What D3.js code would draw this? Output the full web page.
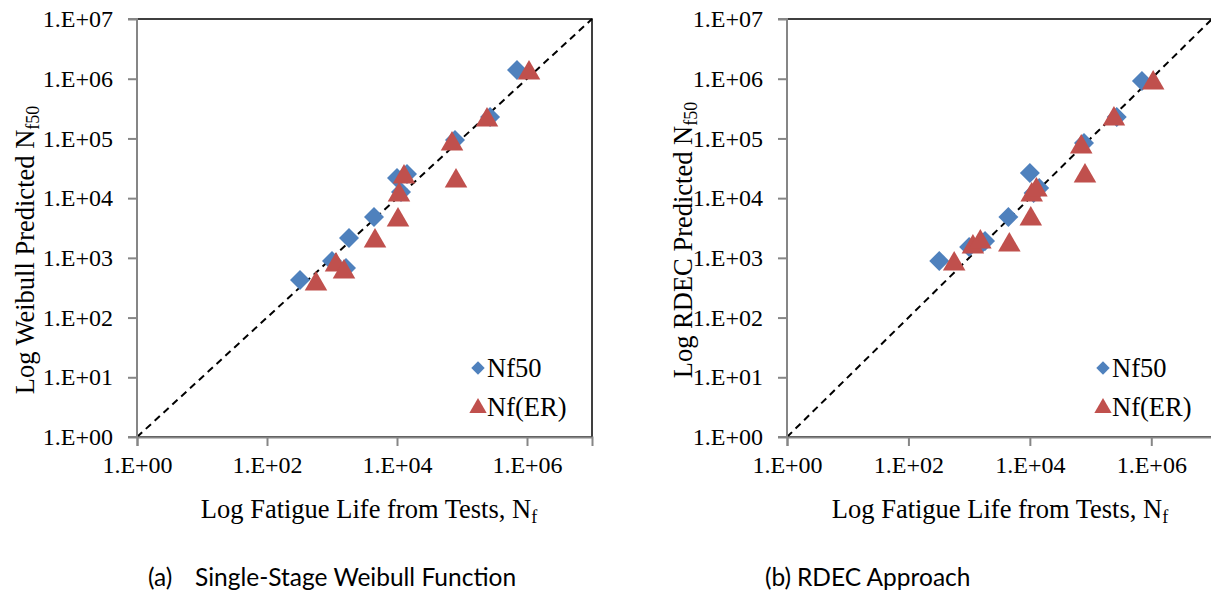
<!DOCTYPE html>
<html><head><meta charset="utf-8">
<script src="https://cdn.jsdelivr.net/npm/d3@7"></script>
<style>body{margin:0;background:#fff}svg{display:block}</style>
</head><body>
<svg id="c" width="1211" height="596"></svg>
<script>
// ---- data ----
const testNf50 = [322, 1000, 1642, 1827, 4426, 10000, 11530, 14250, 78000, 270000, 701000];
const weibullNf50 = [426, 887, 677, 2155, 4834, 21770, 12680, 25400, 94200, 228600, 1400000];
const rdecNf50 = [887, 1521, 1775, 1918, 4834, 26400, 12200, 14800, 83900, 228600, 916000];
const testNfER = [567, 1153, 1530, 4590, 10360, 10730, 12820, 80900, 70200, 242500, 1074000];
const weibullNfER = [394, 820, 626, 2070, 4650, 12200, 24400, 20900, 87300, 220000, 1349000];
const rdecNfER = [853, 1643, 1992, 1775, 4834, 12200, 14800, 25400, 77600, 228600, 916000];
const yTicks = [1, 10, 100, 1e3, 1e4, 1e5, 1e6, 1e7];
const xTicks = [1, 100, 1e4, 1e6];
const tickLabels = {1:"1.E+00",10:"1.E+01",100:"1.E+02",1000:"1.E+03",10000:"1.E+04",100000:"1.E+05",1000000:"1.E+06",10000000:"1.E+07"};
const seriesNames = ["Nf50", "Nf(ER)"];
const captionLabels = ["(a)", "(b)"];
const captionTexts = ["Single-Stage Weibull Function", "RDEC Approach"];

const svg = d3.select("#c");
const BLUE = "#4F81BD", RED = "#C0504D", AX = "#868686";
const serif = "'Liberation Serif','Times New Roman',serif";
const sans = "Lato, 'Open Sans', sans-serif";

function panel(cfg) {
  const x = d3.scaleLog().domain([1, 1e7]).range([cfg.x0, cfg.x1]);
  const y = d3.scaleLog().domain([1, 1e7]).range([437, 19]);
  const g = svg.append("g");
  // plot border
  g.append("rect").attr("x", cfg.x0).attr("y", 19).attr("width", cfg.x1 - cfg.x0).attr("height", 418)
    .attr("fill", "none").attr("stroke", "#000").attr("stroke-width", 1.5);
  // diagonal
  g.append("line").attr("x1", x(1)).attr("y1", y(1)).attr("x2", x(1e7)).attr("y2", y(1e7))
    .attr("stroke", "#000").attr("stroke-width", 2).attr("stroke-dasharray", "7,5");
  // axes
  const ya = d3.axisLeft(y).tickValues(yTicks).tickFormat(d => tickLabels[d]).tickSize(9).tickPadding(15);
  const xa = d3.axisBottom(x).tickValues(xTicks).tickFormat(d => tickLabels[d]).tickSize(9).tickPadding(10);
  const gy = g.append("g").attr("transform", `translate(${cfg.x0},0)`).call(ya);
  const gx = g.append("g").attr("transform", `translate(0,437)`).call(xa);
  [gx, gy].forEach(a => {
    a.select(".domain").attr("stroke", AX).attr("stroke-width", 2);
    a.selectAll(".tick line").attr("stroke", AX).attr("stroke-width", 2);
    a.selectAll(".tick text").attr("font-family", serif).attr("font-size", 24).attr("fill", "#000");
  });
  gy.select(".domain").attr("d", `M-9,19H0V437H-9`);
  // markers
  g.selectAll(".d").data(d3.zip(testNf50, cfg.yd)).join("path")
    .attr("d", d3.symbol().type(d3.symbolSquare).size(200))
    .attr("transform", d => `translate(${x(d[0])},${y(d[1])}) rotate(45)`)
    .attr("fill", BLUE);
  const tri = d3.symbol().type(d3.symbolTriangle).size(220);
  g.selectAll(".t").data(d3.zip(testNfER, cfg.yt)).join("path")
    .attr("d", tri)
    .attr("transform", d => `translate(${x(d[0])},${y(d[1]) + 2})`)
    .attr("fill", RED);
  // legend
  const lx = cfg.legX;
  g.append("path").attr("d", d3.symbol().type(d3.symbolSquare).size(90))
    .attr("transform", `translate(${lx},368) rotate(45)`).attr("fill", BLUE);
  g.append("path").attr("d", d3.symbol().type(d3.symbolTriangle).size(130))
    .attr("transform", `translate(${lx},408)`).attr("fill", RED);
  seriesNames.forEach((s, i) => {
    g.append("text").attr("x", lx + 9).attr("y", 377 + i * 39).attr("font-family", serif)
      .attr("font-size", 26.5).text(s);
  });
  // x title
  const xt = g.append("text").attr("x", cfg.xtX).attr("y", 518)
    .attr("text-anchor", "middle").attr("font-family", serif).attr("font-size", 26.5);
  xt.append("tspan").text("Log Fatigue Life from Tests, N");
  xt.append("tspan").attr("font-size", 18).attr("dy", 5).text("f");
  // y title
  const yt = g.append("text").attr("transform", `translate(${cfg.ytX},${cfg.ytY}) rotate(-90)`)
    .attr("text-anchor", "middle").attr("font-family", serif).attr("font-size", 26.5);
  yt.append("tspan").text(cfg.ytitle + " N");
  yt.append("tspan").attr("font-size", 18).attr("dy", 5).text("f50");
  // caption
  g.append("text").attr("x", cfg.capX).attr("y", 586).attr("font-family", sans)
    .attr("font-size", 24.5).text(cfg.capLabel);
  g.append("text").attr("x", cfg.capX2).attr("y", 586).attr("font-family", sans)
    .attr("font-size", 24.5).text(cfg.capText);
}

panel({x0: 137, x1: 592, yd: weibullNf50, yt: weibullNfER, legX: 478, xtX: 369,
  ytX: 34, ytY: 250, ytitle: "Log Weibull Predicted",
  capLabel: captionLabels[0], capText: captionTexts[0], capX: 148, capX2: 195});
panel({x0: 787, x1: 1212, yd: rdecNf50, yt: rdecNfER, legX: 1103, xtX: 1000,
  ytX: 692, ytY: 240, ytitle: "Log RDEC Predicted",
  capLabel: captionLabels[1], capText: captionTexts[1], capX: 765, capX2: 797});
</script>
</body></html>
